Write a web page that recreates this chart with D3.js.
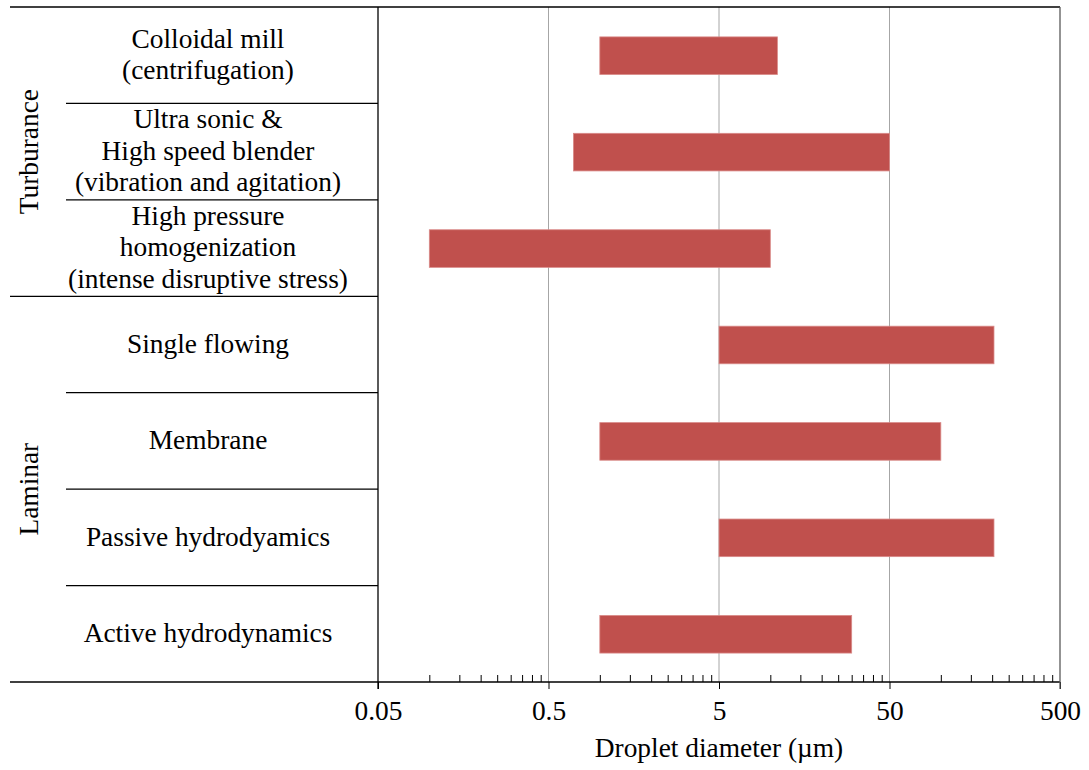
<!DOCTYPE html>
<html>
<head>
<meta charset="utf-8">
<script src="https://cdn.jsdelivr.net/npm/d3@7"></script>
<style>
  body { margin: 0; background: #fff; }
  text { font-family: 'Liberation Serif', 'Times New Roman', serif; fill: #000; }
</style>
</head>
<body>
<div id="chart"></div>
<script>
// data
var categories = [
  'Colloidal mill\n(centrifugation)',
  'Ultra sonic &\nHigh speed blender\n(vibration and agitation)',
  'High pressure\nhomogenization\n(intense disruptive stress)',
  'Single flowing',
  'Membrane',
  'Passive hydrodyamics',
  'Active hydrodynamics'
];
var groupNames = ['Turburance', 'Laminar'];
var groupSizes = [3, 4];
var minValues = [1, 0.7, 0.1, 5, 1, 5, 1];
var maxValues = [11, 50, 10, 205, 100, 205, 30];
var tickValues = [0.05, 0.5, 5, 50, 500];
var tickLabels = ['0.05', '0.5', '5', '50', '500'];

var W = 1089, H = 770;
var plotLeft = 378, plotRight = 1060, plotTop = 7, plotBottom = 682;
var fontSize = '27.4px';

var svg = d3.select('#chart')
  .append('svg')
    .attr('width', W)
    .attr('height', H);

var x = d3.scaleLog()
  .domain([tickValues[0], tickValues[tickValues.length - 1]])
  .range([plotLeft, plotRight]);

var y = d3.scaleBand()
  .domain(categories)
  .range([plotTop, plotBottom])
  .padding(0);

// minor ticks: multiples of each major value (Excel-style)
var minorTicks = [];
tickValues.slice(0, -1).forEach(function(t) {
  for (var k = 2; k <= 9; k++) minorTicks.push(t * k);
});

// grid lines
svg.append('g')
  .selectAll('line')
  .data(tickValues.slice(1, -1))
  .enter()
  .append('line')
    .attr('x1', function(d) { return x(d); })
    .attr('x2', function(d) { return x(d); })
    .attr('y1', plotTop)
    .attr('y2', plotBottom)
    .attr('stroke', '#a6a6a6')
    .attr('stroke-width', 1);

// bars
svg.append('g')
  .selectAll('rect')
  .data(categories)
  .enter()
  .append('rect')
    .attr('x', function(d, i) { return x(minValues[i]); })
    .attr('width', function(d, i) { return x(maxValues[i]) - x(minValues[i]); })
    .attr('y', function(d) { return y(d) + y.bandwidth() * 0.31; })
    .attr('height', y.bandwidth() * 0.39)
    .attr('fill', '#c0504d')
    .attr('stroke', '#d98a88')
    .attr('stroke-width', 0.8);

// bottom axis with minor ticks inside
svg.append('g')
  .attr('transform', 'translate(0,' + plotBottom + ')')
  .call(d3.axisTop(x).tickValues(minorTicks).tickSize(7).tickFormat(''))
  .call(function(g) { g.select('.domain').remove(); })
  .selectAll('line').attr('stroke', '#000');

var xAxis = svg.append('g')
  .attr('transform', 'translate(0,' + plotBottom + ')')
  .call(d3.axisBottom(x).tickValues(tickValues).tickSize(7).tickPadding(12)
    .tickFormat(function(d, i) { return tickLabels[i]; }));
xAxis.select('.domain').remove();
xAxis.selectAll('line').attr('stroke', '#000');
xAxis.selectAll('text')
  .style('font-family', "'Liberation Serif', serif")
  .style('font-size', fontSize)
  .attr('fill', '#000');

// frame lines
var frame = svg.append('g').attr('stroke', '#000').attr('stroke-width', 1.3);
frame.append('line').attr('x1', 10).attr('x2', plotRight).attr('y1', plotTop).attr('y2', plotTop);
frame.append('line').attr('x1', 10).attr('x2', plotRight).attr('y1', plotBottom).attr('y2', plotBottom);
frame.append('line').attr('x1', plotLeft).attr('x2', plotLeft).attr('y1', plotTop).attr('y2', plotBottom + 7);
frame.append('line').attr('x1', plotRight).attr('x2', plotRight).attr('y1', plotTop).attr('y2', plotBottom + 7)
  .attr('stroke', '#595959');

// row separators (long at group boundaries)
var groupEnds = [];
var acc = 0;
groupSizes.forEach(function(s) { acc += s; groupEnds.push(acc); });
svg.append('g')
  .selectAll('line')
  .data(categories.slice(1))
  .enter()
  .append('line')
    .attr('x1', function(d, i) { return groupEnds.indexOf(i + 1) >= 0 ? 10 : 66; })
    .attr('x2', plotLeft)
    .attr('y1', function(d) { return y(d); })
    .attr('y2', function(d) { return y(d); })
    .attr('stroke', '#000')
    .attr('stroke-width', 1.3);

// category labels
var lineH = 31.5;
svg.append('g')
  .selectAll('text')
  .data(categories)
  .enter()
  .append('text')
    .attr('text-anchor', 'middle')
    .style('font-size', fontSize)
    .each(function(d) {
      var lines = d.split('\n');
      var cy = y(d) + y.bandwidth() / 2;
      var t = d3.select(this);
      lines.forEach(function(l, j) {
        t.append('tspan')
          .attr('x', 208)
          .attr('y', cy + (j - (lines.length - 1) / 2) * lineH)
          .attr('dy', '0.3em')
          .text(l);
      });
    });

// group labels
var start = 0;
groupNames.forEach(function(g, i) {
  var y0 = y(categories[start]);
  var y1 = y(categories[start + groupSizes[i] - 1]) + y.bandwidth();
  svg.append('text')
    .attr('transform', 'translate(30,' + ((y0 + y1) / 2) + ')rotate(-90)')
    .attr('text-anchor', 'middle')
    .attr('dy', '0.3em')
    .style('font-size', fontSize)
    .text(g);
  start += groupSizes[i];
});

// axis title
svg.append('text')
  .attr('x', (plotLeft + plotRight) / 2)
  .attr('y', 757)
  .attr('text-anchor', 'middle')
  .style('font-size', fontSize)
  .text('Droplet diameter (µm)');
</script>
</body>
</html>
